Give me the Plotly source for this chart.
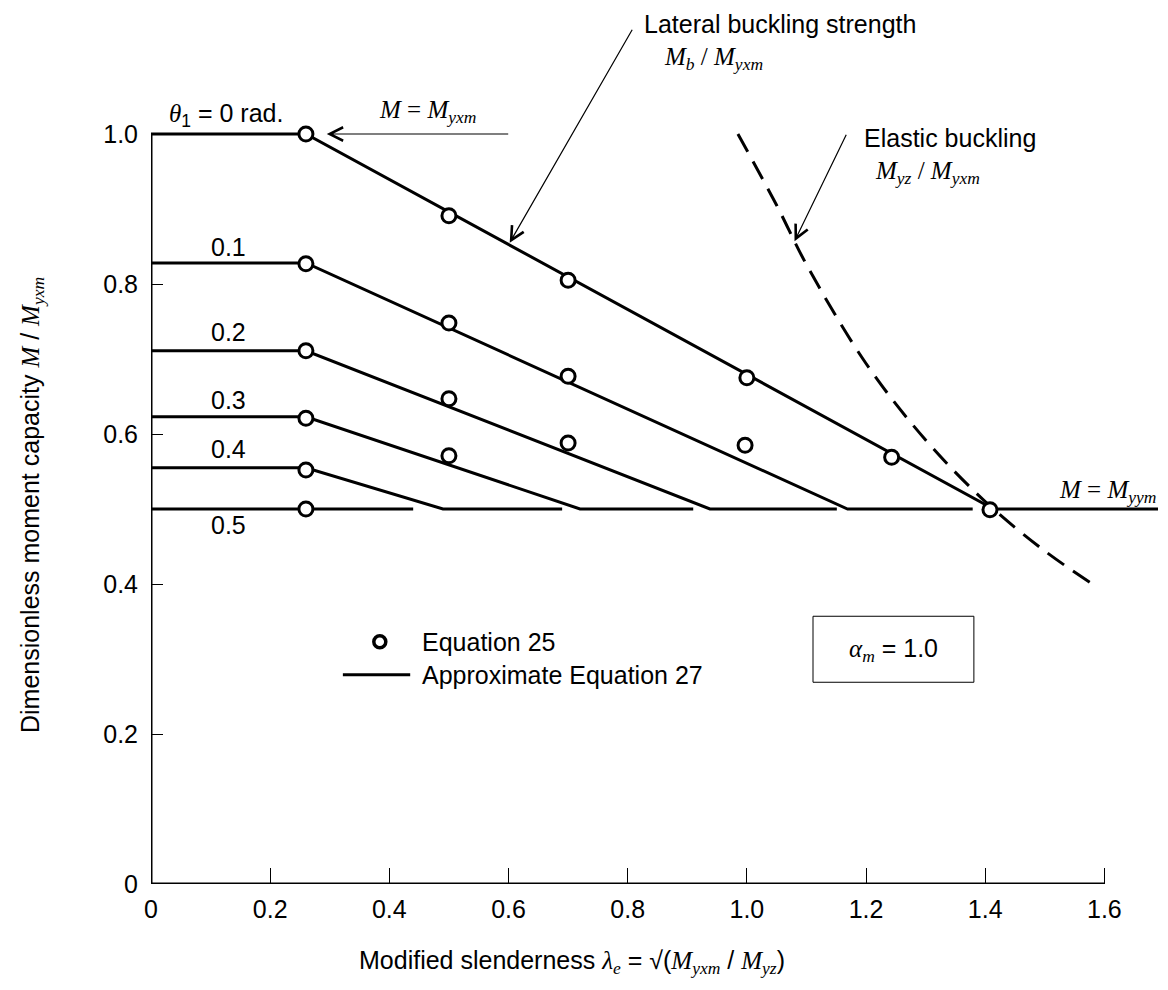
import plotly.graph_objects as go

# ---------------- data ----------------
theta_labels = ["0", "0.1", "0.2", "0.3", "0.4", "0.5"]
plateau_M = [1.0, 0.828, 0.711, 0.623, 0.555, 0.5]          # approx. Eq. 27 plateau values
knee_lambda = [0.26, 0.26, 0.26, 0.26, 0.26, 0.26]           # end of plateau
meet_lambda = [1.414, 1.169, 0.938, 0.72, 0.49, 0.26]        # where the slanted line meets M = Myym
seg_end_lambda = [1.69, 1.379, 1.151, 0.91, 0.69, 0.44]      # end of the horizontal M = Myym piece
M_yym = 0.5

eq25_lambda = [
    [0.26, 0.50, 0.70, 1.00, 1.243, 1.408],
    [0.26, 0.50, 0.70, 0.997],
    [0.26, 0.50, 0.70],
    [0.26, 0.50],
    [0.26],
    [0.26],
]
eq25_M = [
    [1.0, 0.891, 0.805, 0.675, 0.569, 0.499],
    [0.827, 0.748, 0.677, 0.585],
    [0.711, 0.647, 0.588],
    [0.621, 0.571],
    [0.552],
    [0.50],
]

elastic_lambda = [0.985, 1.05, 1.1, 1.2, 1.3, 1.4, 1.5, 1.58]
elastic_M = [1.0, 0.905, 0.826, 0.694, 0.592, 0.51, 0.444, 0.40]

x_tick_vals = [0, 0.2, 0.4, 0.6, 0.8, 1.0, 1.2, 1.4, 1.6]
x_tick_text = ["0", "0.2", "0.4", "0.6", "0.8", "1.0", "1.2", "1.4", "1.6"]
y_tick_vals = [0, 0.2, 0.4, 0.6, 0.8, 1.0]
y_tick_text = ["0", "0.2", "0.4", "0.6", "0.8", "1.0"]

# ---------------- styling ----------------
SANS = "Arial, Liberation Sans, sans-serif"
SERIF = "Liberation Serif"
FS = 25


def it(s):
    return f'<span style="font-family:{SERIF}"><i>{s}</i></span>'


fig = go.Figure()

# approximate equation 27 lines
for k in range(len(theta_labels)):
    xs = [0, knee_lambda[k], meet_lambda[k], seg_end_lambda[k]]
    ys = [plateau_M[k], plateau_M[k], M_yym, M_yym]
    fig.add_trace(go.Scatter(x=xs, y=ys, mode="lines",
                             line=dict(color="black", width=3),
                             showlegend=False, hoverinfo="skip"))

# elastic buckling (dashed)
fig.add_trace(go.Scatter(x=elastic_lambda, y=elastic_M, mode="lines",
                         line=dict(color="black", width=3, dash="20px,11px", shape="spline"),
                         cliponaxis=False, showlegend=False, hoverinfo="skip"))

# equation 25 points
for k in range(len(theta_labels)):
    fig.add_trace(go.Scatter(x=eq25_lambda[k], y=eq25_M[k], mode="markers",
                             marker=dict(symbol="circle", size=14, color="white",
                                         line=dict(color="black", width=3)),
                             cliponaxis=False, showlegend=False, hoverinfo="skip"))

# legend (drawn manually)
fig.add_trace(go.Scatter(x=[0.384], y=[0.323], mode="markers",
                         marker=dict(symbol="circle", size=12, color="white",
                                     line=dict(color="black", width=3.5)),
                         showlegend=False, hoverinfo="skip"))

shapes = [
    # axes lines
    dict(type="line", xref="x", yref="y", x0=0, x1=1.6, y0=0, y1=0,
         line=dict(color="black", width=3)),
    dict(type="line", xref="x", yref="y", x0=0, x1=0, y0=0, y1=1.0,
         line=dict(color="black", width=3)),
    # legend line
    dict(type="line", xref="x", yref="y", x0=0.322, x1=0.435, y0=0.279, y1=0.279,
         line=dict(color="black", width=3)),
    # alpha box
    dict(type="rect", xref="x", yref="y", x0=1.111, x1=1.381, y0=0.269, y1=0.357,
         line=dict(color="black", width=1)),
]

ann = []


def text(x, y, s, xanchor="center", size=FS, family=SANS, angle=0):
    ann.append(dict(x=x, y=y, xref="x", yref="y", text=s, showarrow=False,
                    xanchor=xanchor, yanchor="middle", textangle=angle,
                    font=dict(family=family, size=size, color="black")))


def arrow(x_tail, y_tail, x_head, y_head):
    ann.append(dict(x=x_head, y=y_head, ax=x_tail, ay=y_tail, xref="x", yref="y",
                    axref="x", ayref="y", text="", showarrow=True,
                    arrowhead=5, arrowsize=2.2, arrowwidth=1.2, arrowcolor="black"))


# series labels
text(0.126, 1.025, f'{it("θ")}<sub>1</sub> = 0 rad.')
label_y = [None, 0.849, 0.736, 0.645, 0.58, 0.479]
for k in range(1, len(theta_labels)):
    text(0.13, label_y[k], theta_labels[k])

# M = Myxm arrow
text(0.464, 1.03, f'{it("M")} = {it("M<sub>yxm</sub>")}', family=SERIF)
arrow(0.602, 1.0, 0.295, 1.0)

# lateral buckling strength
text(0.824, 1.147, "Lateral buckling strength", xanchor="left")
text(0.857, 1.101, f'{it("M<sub>b</sub>")} / {it("M<sub>yxm</sub>")}', xanchor="left", family=SERIF)
arrow(0.809, 1.141, 0.602, 0.855)

# elastic buckling
text(1.193, 0.995, "Elastic buckling", xanchor="left")
text(1.211, 0.949, f'{it("M<sub>yz</sub>")} / {it("M<sub>yxm</sub>")}', xanchor="left", family=SERIF)
arrow(1.168, 1.001, 1.08, 0.857)

# M = Myym
text(1.69, 0.524, f'{it("M")} = {it("M<sub>yym</sub>")}', xanchor="right", family=SERIF)

# legend texts
text(0.451, 0.323, "Equation 25", xanchor="left")
text(0.451, 0.279, "Approximate Equation 27", xanchor="left")

# alpha box text
text(1.246, 0.312, f'{it("α<sub>m</sub>")} = 1.0')

# axis titles
PLOT_L, PLOT_W, PLOT_H = 151, 1007, 884
ann.append(dict(x=(32 - PLOT_L) / PLOT_W, y=(884 - 505) / PLOT_H, xref="paper", yref="paper",
                text=f'Dimensionless moment capacity {it("M")} / {it("M<sub>yxm</sub>")}',
                showarrow=False, textangle=-90, xanchor="center", yanchor="middle",
                font=dict(family=SANS, size=FS, color="black")))
ann.append(dict(x=(572 - PLOT_L) / PLOT_W, y=(884 - 962) / PLOT_H, xref="paper", yref="paper",
                text=f'Modified slenderness {it("λ<sub>e</sub>")} = √({it("M<sub>yxm</sub>")} / {it("M<sub>yz</sub>")})',
                showarrow=False, xanchor="center", yanchor="middle",
                font=dict(family=SANS, size=FS, color="black")))

fig.update_layout(
    width=1168, height=990,
    margin=dict(l=151, r=10, t=0, b=106),
    paper_bgcolor="white", plot_bgcolor="white",
    shapes=shapes, annotations=ann,
    showlegend=False,
    font=dict(family=SANS, size=FS, color="black"),
)
fig.update_xaxes(range=[0, 1.69], showgrid=False, zeroline=False, showline=False,
                 tickmode="array", tickvals=x_tick_vals, ticktext=x_tick_text,
                 ticks="inside", ticklen=16, tickwidth=1, tickcolor="black",
                 ticklabelstandoff=8,
                 tickfont=dict(family=SANS, size=FS, color="black"))
fig.update_yaxes(range=[0, 884 / 750], showgrid=False, zeroline=False, showline=False,
                 tickmode="array", tickvals=y_tick_vals, ticktext=y_tick_text,
                 ticks="inside", ticklen=12, tickwidth=1, tickcolor="black",
                 ticklabelstandoff=12,
                 tickfont=dict(family=SANS, size=FS, color="black"))

fig.write_html("out.html", config={"displayModeBar": False},
               post_script="document.body.style.margin='0px';")
